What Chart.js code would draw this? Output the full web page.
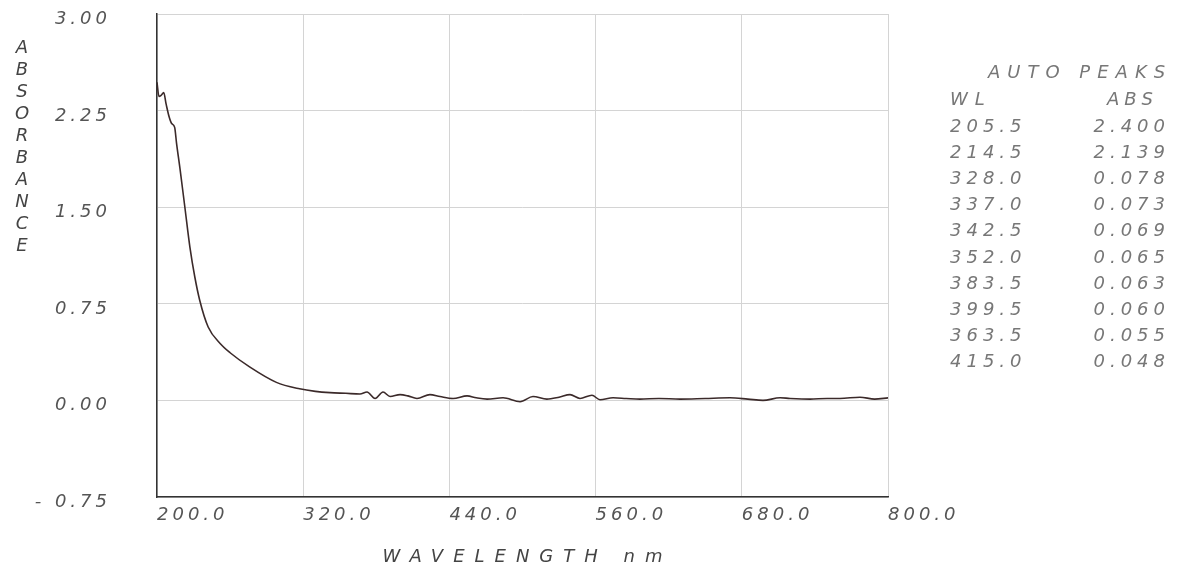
<!DOCTYPE html>
<html>
<head>
<meta charset="utf-8">
<script src="https://cdn.jsdelivr.net/npm/chart.js@4.4.1/dist/chart.umd.min.js"></script>
<style>
  html, body { margin: 0; padding: 0; background: #fff; }
  #wrap { width: 1192px; height: 571px; position: relative; }
</style>
</head>
<body>
<div id="wrap"><canvas id="myChart" width="1192" height="571"></canvas></div>
<script>
// spectrum (nm / absorbance)
const wavelengths = [200.0, 201.6, 203.5, 205.5, 207.5, 210.0, 212.0, 214.5, 216.0, 219.0,
  223.0, 227.0, 231.0, 235.0, 242.0, 252.0, 260.0, 276.0, 298.0, 317.0,
  330.0, 342.0, 355.0, 366.6, 372.4, 379.0, 385.5, 391.3, 399.5, 406.0,
  413.4, 424.0, 432.3, 443.0, 454.5, 462.0, 470.9, 484.0, 498.0, 508.6,
  520.0, 530.0, 539.0, 547.2, 557.0, 563.6, 574.3, 585.0, 596.4, 612.0,
  629.3, 650.0, 670.3, 685.0, 697.4, 711.4, 719.6, 736.0, 750.0, 760.6,
  777.0, 789.0, 800.0];
const absorbance = [2.47, 2.36, 2.37, 2.39, 2.30, 2.20, 2.15, 2.12, 2.00, 1.79,
  1.49, 1.19, 0.96, 0.78, 0.57, 0.44, 0.37, 0.26, 0.14, 0.09,
  0.07, 0.06, 0.055, 0.05, 0.065, 0.015, 0.065, 0.03, 0.045, 0.035,
  0.015, 0.045, 0.03, 0.015, 0.035, 0.02, 0.01, 0.02, -0.01, 0.03,
  0.01, 0.025, 0.045, 0.015, 0.04, 0.005, 0.02, 0.015, 0.01, 0.015,
  0.01, 0.015, 0.02, 0.01, 0.0, 0.02, 0.015, 0.01, 0.015, 0.015,
  0.025, 0.01, 0.02];

// axis ticks
const xTicks = [200, 320, 440, 560, 680, 800];
const yTicks = [-0.75, 0, 0.75, 1.5, 2.25, 3.0];

// auto peaks table
const peakTitle = 'AUTO PEAKS';
const peakHeaders = ['WL', 'ABS'];
const peakWL = ['205.5', '214.5', '328.0', '337.0', '342.5', '352.0', '383.5', '399.5', '363.5', '415.0'];
const peakAbs = ['2.400', '2.139', '0.078', '0.073', '0.069', '0.065', '0.063', '0.060', '0.055', '0.048'];

const yTitle = 'ABSORBANCE';
const xTitle = 'WAVELENGTH nm';

const FONT = '"DejaVu Sans", sans-serif';

// spacing for the plotter-like lettering
const spacingPlugin = {
  id: 'spacing',
  beforeDraw(chart) {
    chart.ctx.letterSpacing = '4px';
  }
};

// axis titles and peak table
const textPlugin = {
  id: 'texts',
  afterDraw(chart) {
    const ctx = chart.ctx;
    const area = chart.chartArea;
    ctx.save();
    ctx.font = 'oblique 18px ' + FONT;
    ctx.fillStyle = '#444';
    ctx.textAlign = 'center';
    ctx.textBaseline = 'middle';
    ctx.letterSpacing = '0px';
    // stacked y title
    for (let i = 0; i < yTitle.length; i++) {
      ctx.fillText(yTitle[i], 22, 48 + i * 22);
    }
    // x title
    ctx.letterSpacing = '10px';
    ctx.fillText(xTitle, (area.left + area.right) / 2 + 5, 557);

    // table
    ctx.fillStyle = '#777';
    ctx.letterSpacing = '7px';
    ctx.textAlign = 'left';
    ctx.fillText(peakTitle, 988, 73);
    ctx.fillText(peakHeaders[0], 950, 100);
    ctx.letterSpacing = '5px';
    ctx.textAlign = 'right';
    ctx.fillText(peakHeaders[1], 1158, 100);
    for (let i = 0; i < peakWL.length; i++) {
      const y = 127 + i * 26.2;
      ctx.textAlign = 'left';
      ctx.fillText(peakWL[i], 950, y);
      ctx.textAlign = 'right';
      ctx.fillText(peakAbs[i], 1170, y);
    }
    ctx.restore();
  }
};

const points = wavelengths.map((w, i) => ({ x: w, y: absorbance[i] }));

new Chart(document.getElementById('myChart'), {
  type: 'line',
  data: {
    datasets: [{
      data: points,
      borderColor: '#3b2a2a',
      borderWidth: 1.6,
      pointRadius: 0,
      cubicInterpolationMode: 'monotone',
      fill: false
    }]
  },
  options: {
    responsive: false,
    animation: false,
    events: [],
    layout: { padding: { top: 14, right: 304, left: 0, bottom: 0 } },
    plugins: {
      legend: { display: false },
      tooltip: { enabled: false }
    },
    scales: {
      x: {
        type: 'linear',
        min: 200,
        max: 800,
        afterFit(scale) { scale.height = 74; scale.paddingLeft = 0; scale.paddingRight = 0; },
        afterBuildTicks(scale) { scale.ticks = xTicks.map(v => ({ value: v })); },
        grid: { color: '#d4d4d4', lineWidth: 1, drawTicks: false },
        border: { color: '#333', width: 1.5 },
        ticks: {
          align: 'start',
          maxRotation: 0,
          padding: 8,
          color: '#555',
          font: { family: FONT, size: 18, style: 'oblique' },
          callback: v => v.toFixed(1)
        }
      },
      y: {
        min: -0.75,
        max: 3.0,
        afterFit(scale) { scale.width = 157; scale.paddingTop = 0; scale.paddingBottom = 0; },
        afterBuildTicks(scale) { scale.ticks = yTicks.map(v => ({ value: v })); },
        grid: { color: '#d4d4d4', lineWidth: 1, drawTicks: false },
        border: { color: '#333', width: 1.5 },
        ticks: {
          padding: 46,
          color: '#555',
          font: { family: FONT, size: 18, style: 'oblique', lineHeight: 0.6 },
          // empty first line nudges the label a little below its grid line, as in the scan
          callback: v => ['', v < 0 ? '- ' + Math.abs(v).toFixed(2) : v.toFixed(2)]
        }
      }
    }
  },
  plugins: [spacingPlugin, textPlugin]
});
</script>
</body>
</html>
